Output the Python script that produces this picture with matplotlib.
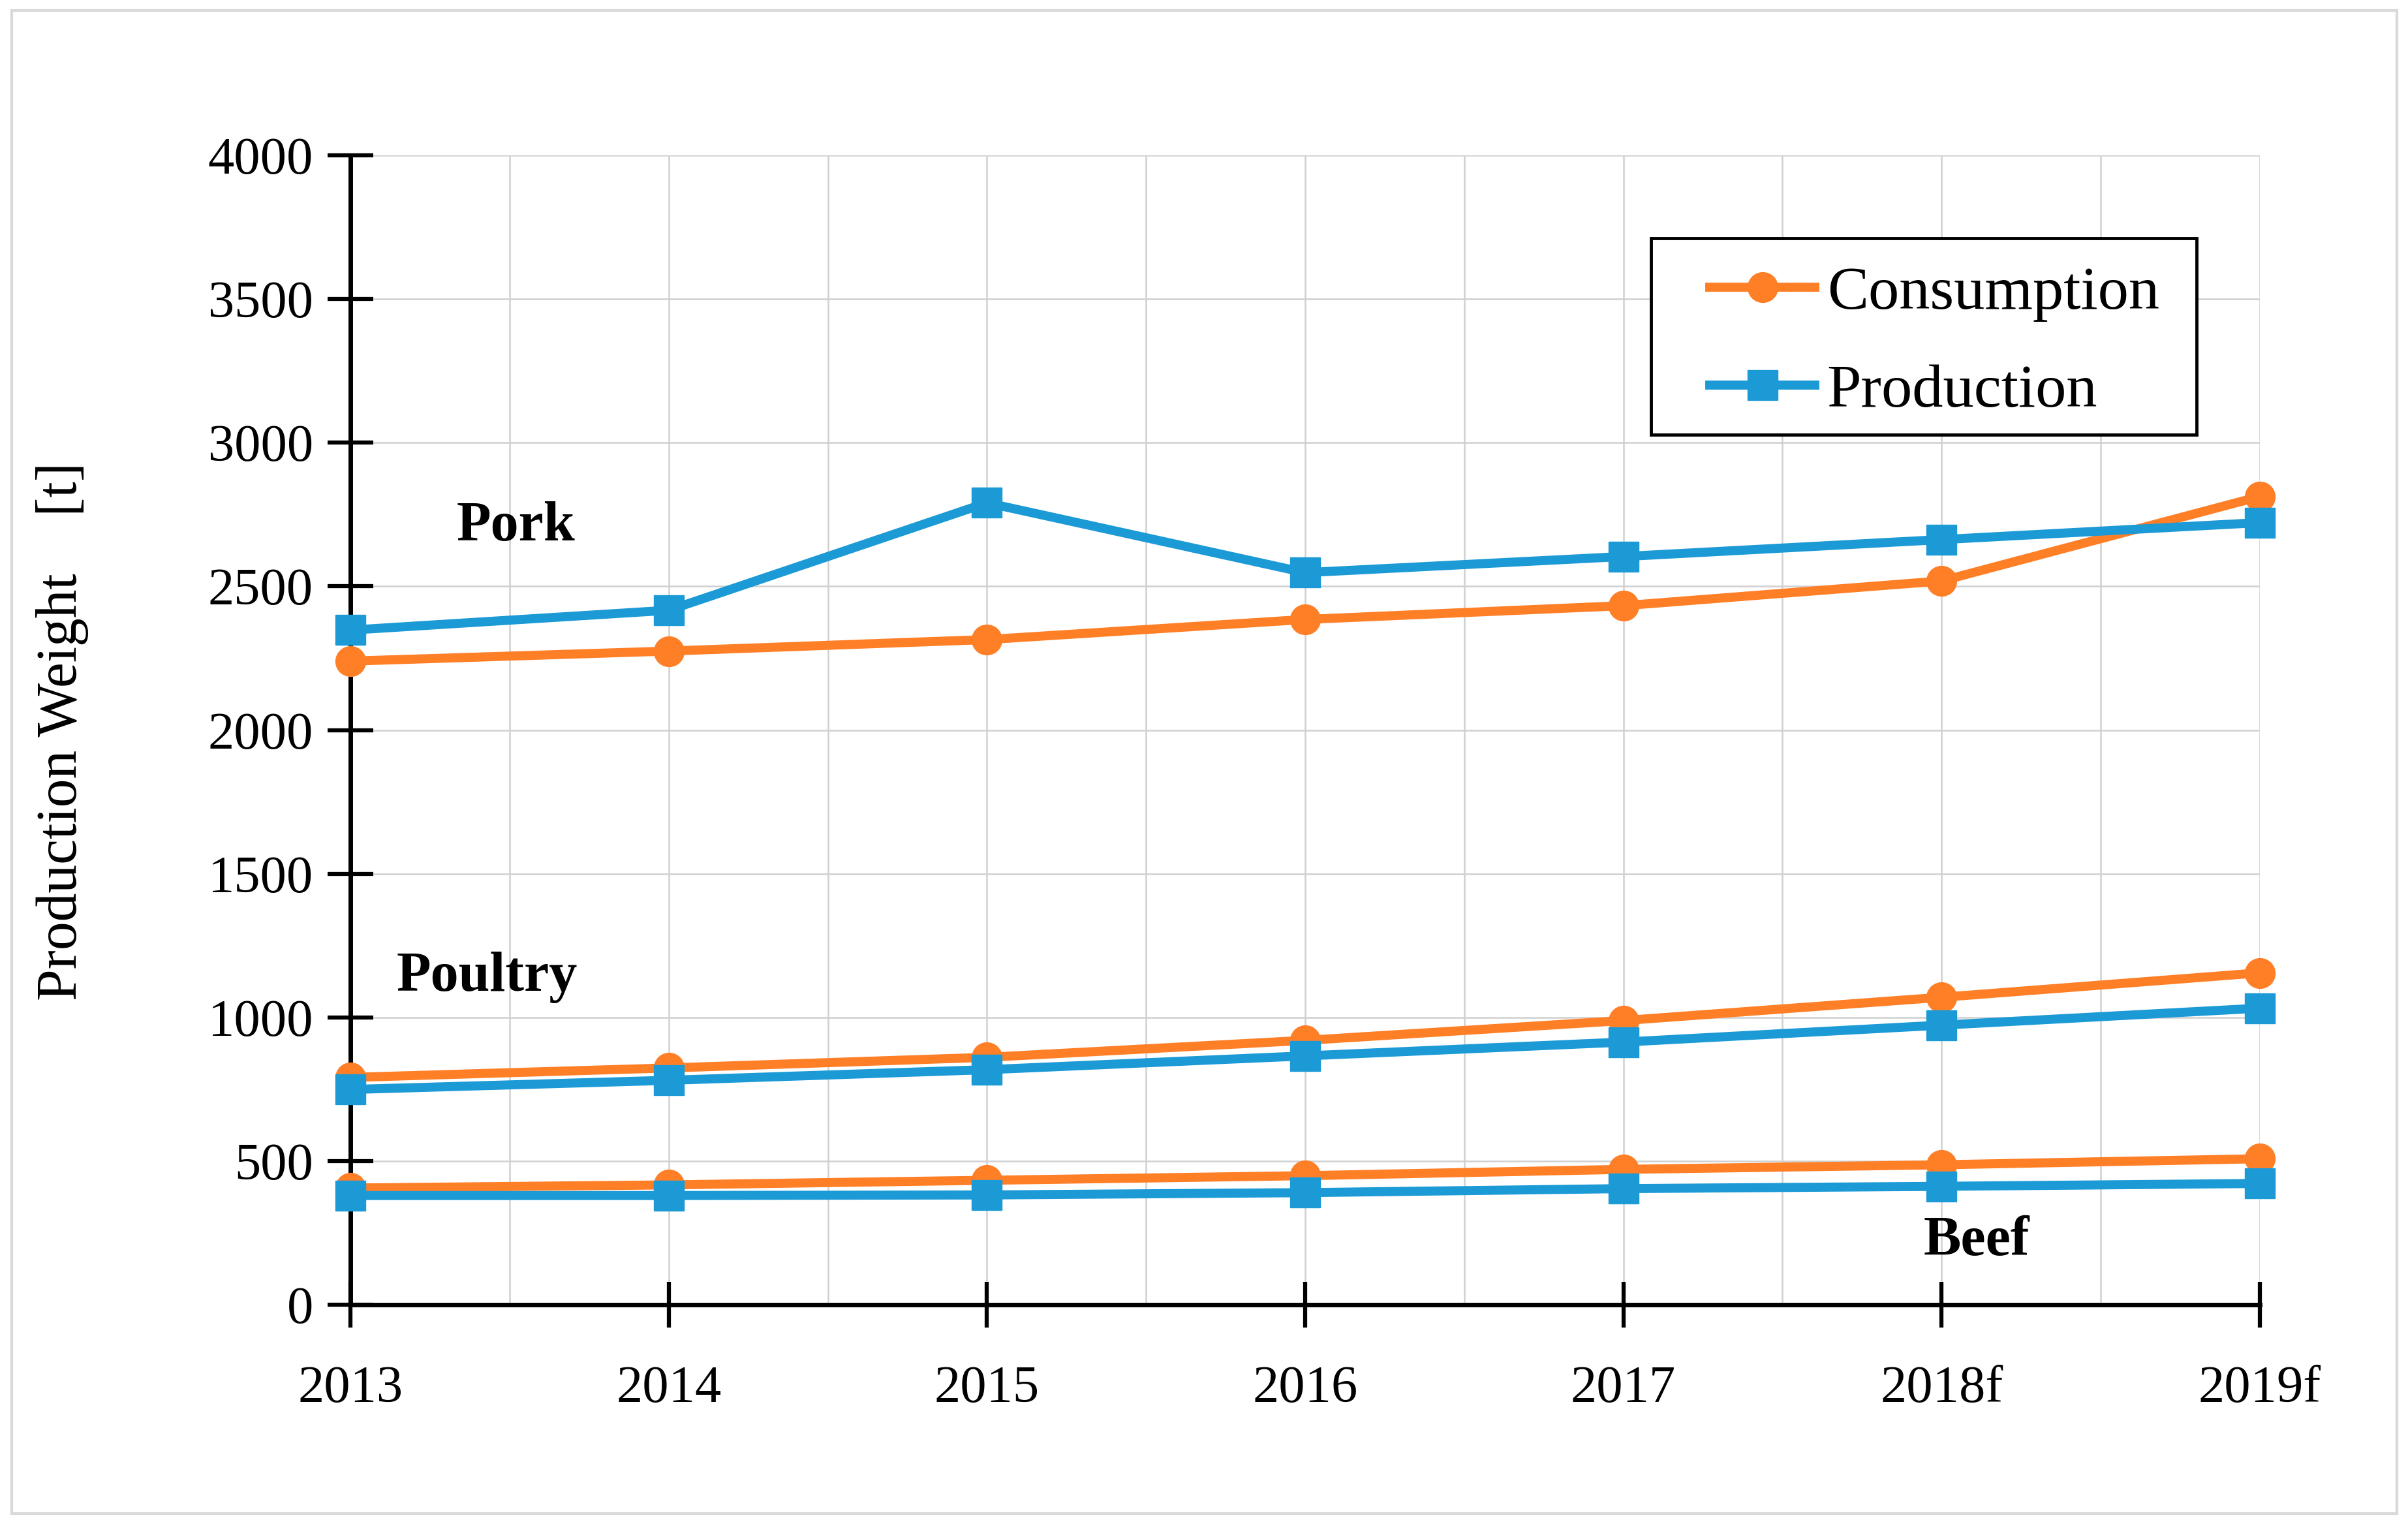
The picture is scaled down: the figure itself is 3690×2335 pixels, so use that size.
import matplotlib
matplotlib.use("Agg")
import matplotlib.pyplot as plt
from matplotlib.patches import Rectangle
from matplotlib.ticker import MultipleLocator

# years on the x axis
years = ["2013", "2014", "2015", "2016", "2017", "2018f", "2019f"]

# values (t)
pork_consumption = [2240, 2275, 2315, 2385, 2433, 2519, 2813]
pork_production = [2348, 2417, 2791, 2548, 2604, 2663, 2722]
poultry_consumption = [791, 824, 861, 920, 989, 1070, 1155]
poultry_production = [749, 781, 818, 866, 914, 973, 1032]
beef_consumption = [406, 417, 433, 449, 471, 487, 508]
beef_production = [380, 380, 382, 390, 404, 412, 422]

orange = "#FF7F27"
blue = "#1B9AD6"
serif = ["Liberation Serif", "DejaVu Serif"]
plt.rcParams["font.family"] = serif

fig = plt.figure(figsize=(36.91, 23.35), dpi=100)
ax = fig.add_axes([0.1455, 0.1439, 0.7927, 0.7541])

# light gray frame around the whole picture
fig.patches.append(Rectangle((0.005, 0.007), 0.99, 0.986, transform=fig.transFigure,
                             fill=False, edgecolor="#D9D9D9", linewidth=3))

x = list(range(len(years)))
line_kw = dict(linewidth=10, markersize=33, clip_on=False, zorder=3)

groups = [(pork_consumption, pork_production),
          (poultry_consumption, poultry_production),
          (beef_consumption, beef_production)]
for i, (cons, prod) in enumerate(groups):
    ax.plot(x, cons, color=orange, marker="o", label="Consumption" if i == 0 else None, **line_kw)
    ax.plot(x, prod, color=blue, marker="s", label="Production" if i == 0 else None, **line_kw)

ax.set_xlim(0, 6)
ax.set_ylim(0, 4000)
ax.set_xticks(x)
ax.set_xticklabels(years)
ax.xaxis.set_minor_locator(MultipleLocator(0.5))
ax.yaxis.set_major_locator(MultipleLocator(500))

ax.grid(True, which="both", axis="x", color="#D0D0D0", linewidth=1.8, zorder=0)
ax.grid(True, which="major", axis="y", color="#D0D0D0", linewidth=1.8, zorder=0)
ax.set_axisbelow(True)

for side in ["top", "right"]:
    ax.spines[side].set_visible(False)
ax.spines["left"].set_linewidth(5)
ax.spines["bottom"].set_linewidth(5)

ax.tick_params(axis="both", which="major", direction="inout", length=50, width=4.5,
               labelsize=58)
ax.tick_params(axis="x", which="minor", length=0)
ax.tick_params(axis="x", pad=42)
ax.tick_params(axis="y", pad=16)

fig.text(0.026, 0.52, "Production Weight    [t]", rotation=90, ha="center", va="center",
         fontsize=63)

ax.text(0.52, 2706, "Pork", fontsize=62, fontweight="bold", ha="center", va="center")
ax.text(0.43, 1139, "Poultry", fontsize=62, fontweight="bold", ha="center", va="center")
ax.text(5.11, 219, "Beef", fontsize=62, fontweight="bold", ha="center", va="center")

# legend box drawn separately so its size matches the picture
ax.add_patch(Rectangle((0.681, 0.757), 0.286, 0.171, transform=ax.transAxes,
                       facecolor="white", edgecolor="black", linewidth=3.5, zorder=4))
leg = ax.legend(loc="center left", bbox_to_anchor=(0.712, 0.837), borderaxespad=0,
                fontsize=68, frameon=False, handlelength=1.7, handletextpad=0.2,
                borderpad=0, labelspacing=0.68)
leg.set_zorder(5)

fig.savefig("out.png", dpi=100)
